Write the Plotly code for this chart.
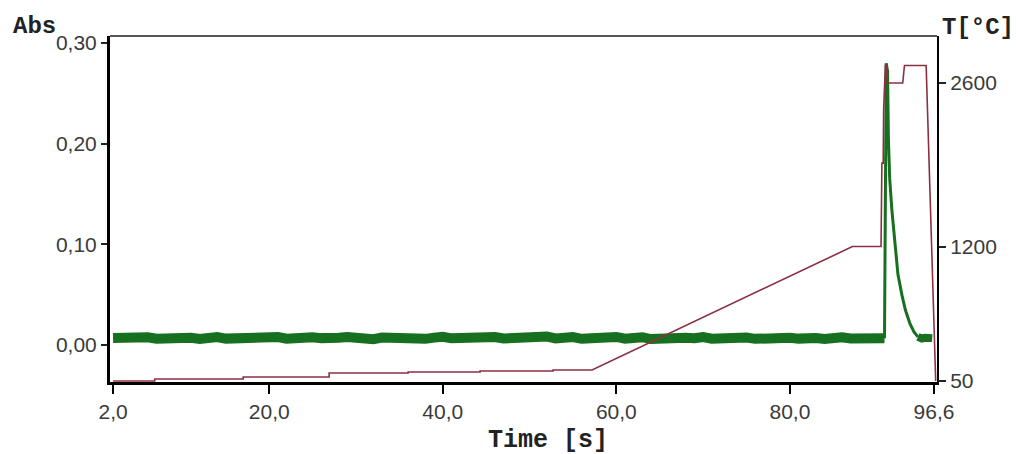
import plotly.graph_objects as go

# ---------------- data ----------------
# Absorbance baseline (s, Abs)
base_time = [2, 3, 4, 5, 6, 7, 8, 9, 10, 11, 12, 13, 14, 15, 16, 17, 18, 19, 20, 21,
             22, 23, 24, 25, 26, 27, 28, 29, 30, 31, 32, 33, 34, 35, 36, 37, 38, 39, 40, 41,
             42, 43, 44, 45, 46, 47, 48, 49, 50, 51, 52, 53, 54, 55, 56, 57, 58, 59, 60, 61,
             62, 63, 64, 65, 66, 67, 68, 69, 70, 71, 72, 73, 74, 75, 76, 77, 78, 79, 80, 81,
             82, 83, 84, 85, 86, 87, 88, 89, 90, 90.9]
base_abs = [0.0068, 0.0074, 0.0060, 0.0071, 0.0077, 0.0062, 0.0069, 0.0081, 0.0064, 0.0072,
            0.0059, 0.0070, 0.0078, 0.0063, 0.0067, 0.0075, 0.0061, 0.0073, 0.0066, 0.0079,
            0.0062, 0.0070, 0.0064, 0.0076, 0.0068, 0.0060, 0.0072, 0.0080, 0.0065, 0.0071,
            0.0058, 0.0074, 0.0067, 0.0063, 0.0077, 0.0069, 0.0061, 0.0073, 0.0082, 0.0066,
            0.0070, 0.0062, 0.0075, 0.0068, 0.0079, 0.0064, 0.0071, 0.0060, 0.0076, 0.0069,
            0.0083, 0.0065, 0.0072, 0.0078, 0.0061, 0.0070, 0.0074, 0.0066, 0.0080, 0.0063,
            0.0071, 0.0077, 0.0059, 0.0068, 0.0075, 0.0064, 0.0072, 0.0067, 0.0079, 0.0062,
            0.0070, 0.0076, 0.0065, 0.0073, 0.0061, 0.0069, 0.0078, 0.0066, 0.0071, 0.0063,
            0.0074, 0.0068, 0.0060, 0.0072, 0.0077, 0.0065, 0.0070, 0.0062, 0.0069, 0.0066]

# Absorbance atomisation peak
peak_time = [90.9, 91.0, 91.1, 91.25, 91.35, 91.5, 91.75, 92.1, 92.45, 92.9, 93.3, 93.8, 94.3, 94.75]
peak_abs = [0.0066, 0.150, 0.280, 0.272, 0.205, 0.165, 0.134, 0.102, 0.070, 0.050, 0.035, 0.022, 0.013, 0.008]

# Absorbance tail after the peak
tail_time = [94.75, 95.2, 95.6, 96.0, 96.4]
tail_abs = [0.0080, 0.0064, 0.0072, 0.0060, 0.0068]

# Furnace temperature programme (s, degC)
temp_time = [2.0, 6.8, 6.8, 17.0, 17.0, 26.9, 26.9, 36.0, 36.0, 44.3, 44.3, 52.7, 52.7, 57.2,
             87.2, 90.5, 90.6, 90.75, 90.8, 91.0, 91.15, 91.2, 93.0, 93.2, 95.7, 96.8]
temp_val = [50, 50, 67, 67, 84, 84, 118, 118, 127, 127, 135, 135, 144, 144,
            1200, 1200, 1914, 1914, 2370, 2750, 2750, 2600, 2600, 2750, 2750, 50]

# Tick labels
x_tickvals = [2.0, 20.0, 40.0, 60.0, 80.0, 96.6]
x_ticktext = ["2,0", "20,0", "40,0", "60,0", "80,0", "96,6"]
y_tickvals = [0.0, 0.10, 0.20, 0.30]
y_ticktext = ["0,00", "0,10", "0,20", "0,30"]
t_tickvals = [50, 1200, 2600]
t_ticktext = ["50", "1200", "2600"]

# ---------------- figure ----------------
GREEN = "#17701f"
RED = "#8c2f42"
TICKFONT = dict(family="Liberation Sans, Arial, sans-serif", size=21, color="#3a3a3a")
MONO = "Liberation Mono, Courier New, monospace"

fig = go.Figure()

fig.add_trace(go.Scatter(x=temp_time, y=temp_val, mode="lines", yaxis="y2",
                         line=dict(color=RED, width=1.6), hoverinfo="skip", showlegend=False))
fig.add_trace(go.Scatter(x=base_time, y=base_abs, mode="lines",
                         line=dict(color=GREEN, width=10), showlegend=False))
fig.add_trace(go.Scatter(x=peak_time, y=peak_abs, mode="lines",
                         line=dict(color=GREEN, width=3), showlegend=False))
fig.add_trace(go.Scatter(x=tail_time, y=tail_abs, mode="lines",
                         line=dict(color=GREEN, width=8), showlegend=False))

fig.update_layout(
    width=1016, height=454,
    margin=dict(l=110, r=79, t=36, b=72, autoexpand=False),
    paper_bgcolor="white", plot_bgcolor="white",
    xaxis=dict(range=[1.65, 96.95], showgrid=False, zeroline=False, automargin=False,
               showline=True, linecolor="black", linewidth=3,
               ticks="outside", ticklen=9, tickwidth=2, tickcolor="black",
               tickvals=x_tickvals, ticktext=x_ticktext, tickfont=TICKFONT),
    yaxis=dict(range=[-0.0368, 0.307], showgrid=False, zeroline=False, automargin=False,
               showline=True, linecolor="black", linewidth=3,
               ticks="outside", ticklen=6, tickwidth=1.5, tickcolor="#222",
               tickvals=y_tickvals, ticktext=y_ticktext, tickfont=TICKFONT),
    yaxis2=dict(range=[41, 3002], overlaying="y", side="right", showgrid=False, zeroline=False,
                automargin=False,
                showline=True, linecolor="black", linewidth=2,
                ticks="outside", ticklen=7, tickwidth=1.5, tickcolor="#222",
                tickvals=t_tickvals, ticktext=t_ticktext, tickfont=TICKFONT),
    shapes=[dict(type="line", xref="paper", yref="paper", x0=0, x1=1, y0=1, y1=1,
                 line=dict(color="#555", width=2))],
    annotations=[
        dict(text="<b>Abs</b>", xref="paper", yref="paper", x=(11 - 110) / 827, y=1.0,
             xanchor="left", yanchor="middle", showarrow=False, yshift=10,
             font=dict(family=MONO, size=24, color="#222")),
        dict(text="<b>T[°C]</b>", xref="paper", yref="paper", x=(940 - 110) / 827, y=1.0,
             xanchor="left", yanchor="middle", showarrow=False, yshift=9,
             font=dict(family=MONO, size=24, color="#222")),
        dict(text="<b>Time [s]</b>", xref="paper", yref="paper", x=(548 - 110) / 827, y=0.0,
             xanchor="center", yanchor="middle", showarrow=False, yshift=-58,
             font=dict(family=MONO, size=25, color="#222")),
    ],
)

fig.write_html("out.html", config={"displayModeBar": False},
               post_script="document.body.style.margin='0px';")
